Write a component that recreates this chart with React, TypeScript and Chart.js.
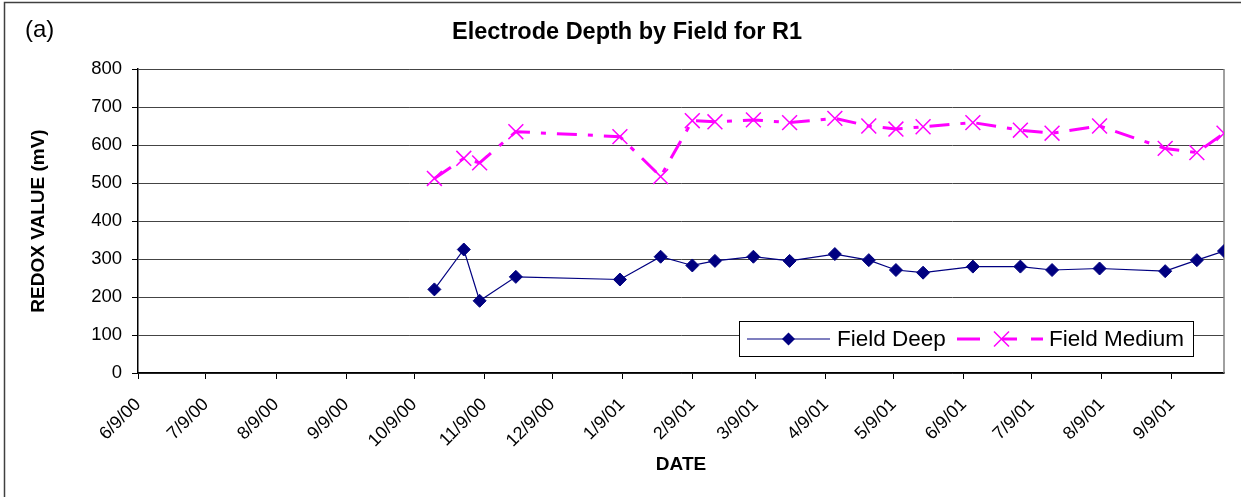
import React, { useEffect, useRef } from 'react';
import { Chart, registerables } from 'chart.js';

Chart.register(...registerables);

const AXIS_START = '2000-06-09';

const sampleDates = [
  '2000-10-18', '2000-10-31', '2000-11-07', '2000-11-23', '2001-01-08',
  '2001-01-26', '2001-02-09', '2001-02-19', '2001-03-08', '2001-03-24',
  '2001-04-13', '2001-04-28', '2001-05-10', '2001-05-22', '2001-06-13',
  '2001-07-04', '2001-07-18', '2001-08-08', '2001-09-06', '2001-09-20',
  '2001-10-02',
];

const fieldDeep = [
  220, 325, 190, 253, 246, 306, 283, 295, 306, 295,
  313, 297, 271, 264, 280, 280, 271, 275, 268, 297, 321,
];

const fieldMedium = [
  512, 565, 553, 635, 622, 517, 664, 661, 666, 659,
  670, 650, 642, 648, 659, 639, 631, 650, 591, 580, 631,
];

const tickDates = [
  '2000-06-09', '2000-07-09', '2000-08-09', '2000-09-09', '2000-10-09',
  '2000-11-09', '2000-12-09', '2001-01-09', '2001-02-09', '2001-03-09',
  '2001-04-09', '2001-05-09', '2001-06-09', '2001-07-09', '2001-08-09',
  '2001-09-09',
];

const tickLabels = [
  '6/9/00', '7/9/00', '8/9/00', '9/9/00', '10/9/00', '11/9/00', '12/9/00',
  '1/9/01', '2/9/01', '3/9/01', '4/9/01', '5/9/01', '6/9/01', '7/9/01',
  '8/9/01', '9/9/01',
];

const TITLE = 'Electrode Depth by Field for R1';
const PANEL = '(a)';
const X_TITLE = 'DATE';
const Y_TITLE = 'REDOX VALUE (mV)';
const SERIES_NAMES = ['Field Deep', 'Field Medium'];

const FONT = '"Liberation Sans", Arial, Helvetica, sans-serif';
const NAVY = '#000080';
const MAGENTA = '#FF00FF';

const dayNum = (s: string) =>
  Math.round((Date.parse(s + 'T00:00:00Z') - Date.parse(AXIS_START + 'T00:00:00Z')) / 86400000);

const W = 1241;
const H = 497;

const decorPlugin = {
  id: 'decor',
  beforeDatasetsDraw(chart: any) {
    const { ctx, chartArea } = chart;
    ctx.save();
    ctx.strokeStyle = '#808080';
    ctx.lineWidth = 1.5;
    ctx.beginPath();
    ctx.moveTo(chartArea.right, chartArea.top);
    ctx.lineTo(chartArea.right, chartArea.bottom);
    ctx.stroke();
    ctx.restore();
  },
  afterDraw(chart: any) {
    const { ctx } = chart;
    ctx.save();
    // outer frame (left & top)
    ctx.strokeStyle = '#404040';
    ctx.lineWidth = 1.5;
    ctx.beginPath();
    ctx.moveTo(4.5, H);
    ctx.lineTo(4.5, 2.5);
    ctx.lineTo(W, 2.5);
    ctx.stroke();

    // title
    ctx.fillStyle = '#000';
    ctx.textBaseline = 'middle';
    ctx.textAlign = 'center';
    ctx.font = `bold 23.5px ${FONT}`;
    ctx.fillText(TITLE, 627, 33);
    ctx.textAlign = 'left';
    ctx.font = `24px ${FONT}`;
    ctx.fillText(PANEL, 25, 30);

    // legend
    const lx = 739.5, ly = 321.5, lw = 454, lh = 35;
    ctx.fillStyle = '#fff';
    ctx.fillRect(lx, ly, lw, lh);
    ctx.strokeStyle = '#000';
    ctx.lineWidth = 1;
    ctx.strokeRect(lx, ly, lw, lh);
    const cy = ly + lh / 2;

    ctx.strokeStyle = NAVY;
    ctx.lineWidth = 1.2;
    ctx.beginPath();
    ctx.moveTo(747, cy);
    ctx.lineTo(830, cy);
    ctx.stroke();
    ctx.fillStyle = NAVY;
    ctx.beginPath();
    const dx = 788.5, dr = 6.5;
    ctx.moveTo(dx, cy - dr);
    ctx.lineTo(dx + dr, cy);
    ctx.lineTo(dx, cy + dr);
    ctx.lineTo(dx - dr, cy);
    ctx.closePath();
    ctx.fill();

    ctx.fillStyle = '#000';
    ctx.font = `22.5px ${FONT}`;
    ctx.textBaseline = 'middle';
    ctx.fillText(SERIES_NAMES[0], 837, cy + 1);

    ctx.strokeStyle = MAGENTA;
    ctx.lineWidth = 3;
    ctx.beginPath();
    ctx.moveTo(957, cy); ctx.lineTo(980, cy);
    ctx.moveTo(1002, cy); ctx.lineTo(1017, cy);
    ctx.moveTo(1031, cy); ctx.lineTo(1043, cy);
    ctx.stroke();
    ctx.lineWidth = 1.5;
    const mx = 1001.5, mr = 7.5;
    ctx.beginPath();
    ctx.moveTo(mx - mr, cy - mr); ctx.lineTo(mx + mr, cy + mr);
    ctx.moveTo(mx - mr, cy + mr); ctx.lineTo(mx + mr, cy - mr);
    ctx.stroke();

    ctx.fillStyle = '#000';
    ctx.fillText(SERIES_NAMES[1], 1049, cy + 1);
    ctx.restore();
  },
};

export default function App() {
  const canvasRef = useRef<HTMLCanvasElement | null>(null);

  useEffect(() => {
    const canvas = canvasRef.current;
    if (!canvas) return;
    const xs = sampleDates.map(dayNum);
    const tickVals = tickDates.map(dayNum);

    const chart = new Chart(canvas, {
      type: 'line',
      data: {
        datasets: [
          {
            label: SERIES_NAMES[0],
            data: xs.map((x, i) => ({ x, y: fieldDeep[i] })),
            borderColor: NAVY,
            backgroundColor: NAVY,
            borderWidth: 1.2,
            pointStyle: 'rectRot',
            pointRadius: 6.5,
            pointBackgroundColor: NAVY,
            pointBorderColor: NAVY,
            pointBorderWidth: 1,
            tension: 0,
          },
          {
            label: SERIES_NAMES[1],
            data: xs.map((x, i) => ({ x, y: fieldMedium[i] })),
            borderColor: MAGENTA,
            backgroundColor: MAGENTA,
            borderWidth: 3,
            borderDash: [20, 11, 5, 11],
            pointStyle: 'crossRot',
            pointRadius: 10.5,
            pointBorderColor: MAGENTA,
            pointBorderWidth: 1.5,
            tension: 0,
          },
        ],
      } as any,
      options: {
        animation: false,
        responsive: false,
        maintainAspectRatio: false,
        events: [],
        layout: { padding: { left: 0, top: 69, right: 17, bottom: 0 } },
        plugins: {
          legend: { display: false },
          title: { display: false },
          tooltip: { enabled: false },
        },
        scales: {
          x: {
            type: 'linear',
            min: 0,
            max: xs[xs.length - 1],
            afterBuildTicks: (s: any) => {
              s.ticks = tickVals.map((v) => ({ value: v }));
            },
            afterFit: (s: any) => {
              s.height = 124;
            },
            ticks: {
              autoSkip: false,
              maxRotation: 45,
              minRotation: 45,
              padding: 15,
              color: '#000',
              font: { family: FONT, size: 18 },
              callback: (v: any) => {
                const idx = tickVals.indexOf(Number(v));
                return idx >= 0 ? tickLabels[idx] : '';
              },
            },
            grid: {
              drawOnChartArea: false,
              drawTicks: true,
              tickLength: 6,
              tickColor: '#000',
              tickWidth: 1,
            },
            border: { color: '#000', width: 1.5 },
            title: {
              display: true,
              text: X_TITLE,
              color: '#000',
              font: { family: FONT, size: 19, weight: 'bold' },
              padding: { top: 0, bottom: 21 },
            },
          },
          y: {
            min: 0,
            max: 800,
            afterFit: (s: any) => {
              s.width = 138;
            },
            ticks: {
              stepSize: 100,
              padding: 10,
              color: '#000',
              font: { family: FONT, size: 18.5 },
            },
            grid: {
              color: '#444',
              lineWidth: 1,
              drawTicks: true,
              tickLength: 6,
              tickColor: '#000',
            },
            border: { color: '#000', width: 1.5 },
            title: {
              display: true,
              text: Y_TITLE,
              color: '#000',
              font: { family: FONT, size: 19, weight: 'bold' },
              padding: { top: 27, bottom: 0 },
            },
          },
        },
      } as any,
      plugins: [decorPlugin],
    });
    return () => chart.destroy();
  }, []);

  return (
    <div style={{ position: 'absolute', left: 0, top: 0, width: W, height: H, background: '#fff' }}>
      <canvas ref={canvasRef} width={W} height={H} style={{ display: 'block', width: W, height: H }} />
    </div>
  );
}
